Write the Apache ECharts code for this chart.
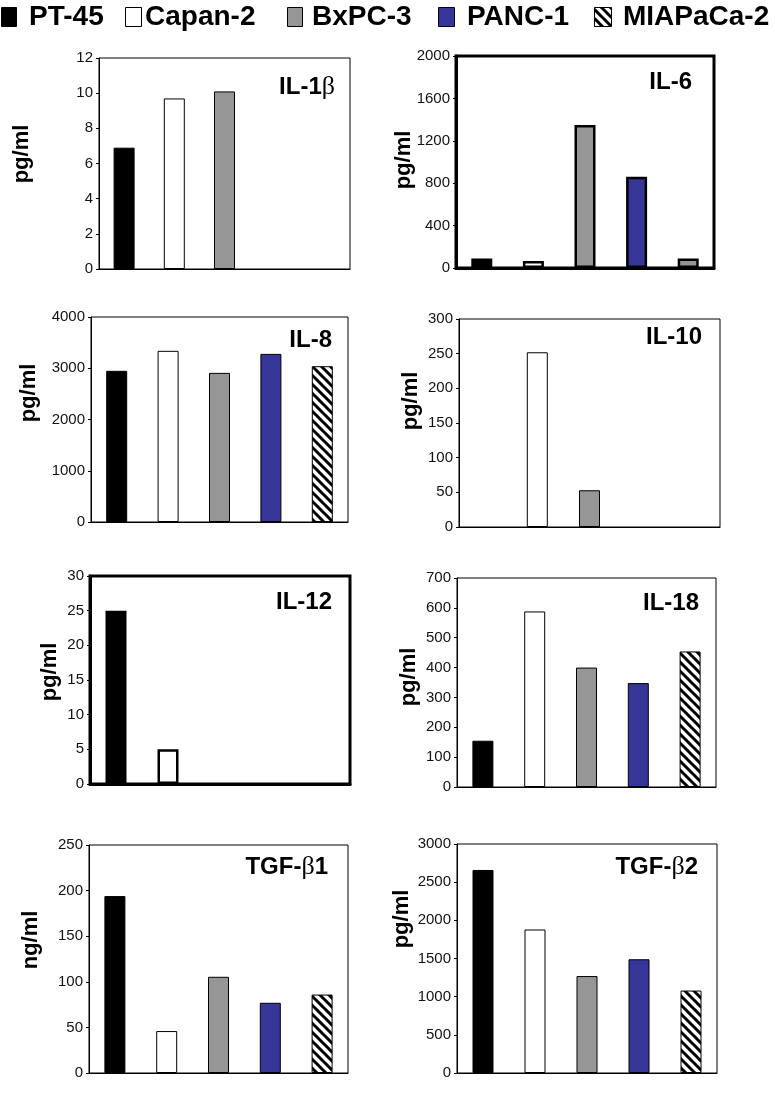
<!DOCTYPE html>
<html>
<head>
<meta charset="utf-8">
<script src="https://cdn.jsdelivr.net/npm/echarts@6/dist/echarts.min.js"></script>
<style>
  html, body { margin: 0; padding: 0; background: #fff; }
  #chart { width: 775px; height: 1107px; }
</style>
</head>
<body>
<div id="chart"></div>
<script>
// cell lines (x categories, same order in every panel)
const cellLines = ['PT-45', 'Capan-2', 'BxPC-3', 'PANC-1', 'MIAPaCa-2']

const il1b = [6.9, 9.7, 10.1, null, null]
const il6 = [90, 65, 1350, 860, 90]
const il8 = [2950, 3340, 2910, 3280, 3040]
const il10 = [null, 252, 53, null, null]
const il12 = [25, 5, null, null, null]
const il18 = [155, 588, 400, 348, 454]
const tgfb1 = [194, 46, 105.5, 77, 86]
const tgfb2 = [2660, 1880, 1270, 1490, 1080]

// y axis ranges
const yMax = [12, 2000, 4000, 300, 30, 700, 250, 3000]
const yStep = [2, 400, 1000, 50, 5, 100, 50, 500]

const panelTitles = ['{b|IL-1}{g|β}', 'IL-6', 'IL-8', 'IL-10', 'IL-12', 'IL-18', '{b|TGF-}{g|β}{b|1}', '{b|TGF-}{g|β}{b|2}']
const units = ['pg/ml', 'pg/ml', 'pg/ml', 'pg/ml', 'pg/ml', 'pg/ml', 'ng/ml', 'pg/ml']

const panelData = [il1b, il6, il8, il10, il12, il18, tgfb1, tgfb2]

// diagonal hatch for MIAPaCa-2
function makeHatch() {
	const c = document.createElement('canvas')
	c.width = 9
	c.height = 9
	const ctx = c.getContext('2d')
	ctx.fillStyle = '#fff'
	ctx.fillRect(0, 0, 9, 9)
	ctx.strokeStyle = '#000'
	ctx.lineWidth = 3
	ctx.beginPath()
	for (let k = -9; k <= 9; k += 9) {
		ctx.moveTo(k - 1, -1)
		ctx.lineTo(k + 10, 10)
	}
	ctx.stroke()
	return c
}
const hatch = { image: makeHatch(), repeat: 'repeat' }

const fills = ['#000', '#fff', '#969696', '#363698', hatch]
// in the IL-6 panel the last bar is drawn grey
const il6Fills = ['#000', '#fff', '#969696', '#363698', '#969696']

// layout: [left, top, width, height] of each plot box
const boxes = [
	[99, 58, 251, 211],
	[456, 56, 258, 212],
	[91, 317, 257, 205],
	[459, 319, 261, 208],
	[90, 576, 260, 208],
	[457, 578, 259, 209],
	[89, 845, 259, 228],
	[457, 844, 260, 229]
]
const thick = [false, true, false, false, true, false, false, false]
const titlePos = [[335, 87], [692, 82], [332, 340], [702, 337], [332, 602], [699, 603], [328, 867], [698, 867]]
const unitPos = [[22, 154], [404, 160], [29, 393], [411, 401], [50, 672], [409, 677], [31, 940], [402, 919]]

const sans = '"Liberation Sans", Arial, Helvetica, sans-serif'
const serif = '"Liberation Serif", "DejaVu Serif", serif'

const grid = []
const xAxis = []
const yAxis = []
const series = []
const title = []
const graphic = []

panelData.forEach((vals, i) => {
	const lw = thick[i] ? 3 : 1
	const [l, t, w, h] = boxes[i]
	grid.push({
		left: l, top: t, width: w, height: h,
		show: true, borderColor: '#000', borderWidth: lw,
		containLabel: false, outerBoundsMode: 'none'
	})
	xAxis.push({
		type: 'category', gridIndex: i, data: cellLines,
		axisLine: { show: true, lineStyle: { color: '#000', width: lw } },
		axisTick: { show: false },
		axisLabel: { show: false },
		splitLine: { show: false }
	})
	yAxis.push({
		type: 'value', gridIndex: i, min: 0, max: yMax[i], interval: yStep[i],
		axisLine: { show: true, lineStyle: { color: '#000', width: lw } },
		axisTick: { show: true, length: 3, lineStyle: { color: '#000' } },
		axisLabel: {
			margin: 6, color: '#111', fontFamily: sans, fontSize: 15,
			formatter: v => String(v)
		},
		splitLine: { show: false }
	})
	const f = i === 1 ? il6Fills : fills
	series.push({
		type: 'bar', xAxisIndex: i, yAxisIndex: i, barWidth: 21, silent: true,
		data: vals.map((v, j) => ({
			value: v,
			itemStyle: { color: f[j], borderColor: '#000', borderWidth: thick[i] ? 2.5 : 1 }
		}))
	})
	title.push({
		text: panelTitles[i],
		right: 775 - titlePos[i][0],
		top: titlePos[i][1] - 14,
		padding: 0,
		textStyle: {
			fontFamily: sans, fontWeight: 'bold', fontSize: 24, color: '#000', lineHeight: 28,
			rich: {
				b: { fontFamily: sans, fontWeight: 'bold', fontSize: 24, color: '#000', lineHeight: 28 },
				g: { fontFamily: serif, fontWeight: 'normal', fontSize: 26, color: '#000', lineHeight: 28 }
			}
		}
	})
	graphic.push({
		type: 'text', x: unitPos[i][0], y: unitPos[i][1], rotation: Math.PI / 2,
		style: {
			text: units[i], x: 0, y: 0, fill: '#000',
			font: 'bold 22px ' + sans,
			align: 'center', verticalAlign: 'middle',
			textAlign: 'center', textVerticalAlign: 'middle'
		}
	})
})

// legend drawn across the top
const legendFills = fills
const legendBox = [[1, 16], [125, 17], [287, 16], [438, 17], [594, 18]]
const legendText = [29, 145, 312, 467, 623]
cellLines.forEach((name, j) => {
	graphic.push({
		type: 'rect',
		shape: { x: legendBox[j][0] + 0.5, y: 7.5, width: legendBox[j][1] - 1, height: 19 },
		style: { fill: legendFills[j], stroke: '#000', lineWidth: 1 }
	})
	graphic.push({
		type: 'text',
		style: {
			text: name, x: legendText[j], y: 17, fill: '#000',
			font: 'bold 28px ' + sans,
			align: 'left', verticalAlign: 'middle',
			textAlign: 'left', textVerticalAlign: 'middle'
		}
	})
})

const myChart = echarts.init(document.getElementById('chart'))
myChart.setOption({
	backgroundColor: '#fff',
	animation: false,
	title: title,
	grid: grid,
	xAxis: xAxis,
	yAxis: yAxis,
	series: series,
	graphic: graphic
})
</script>
</body>
</html>
